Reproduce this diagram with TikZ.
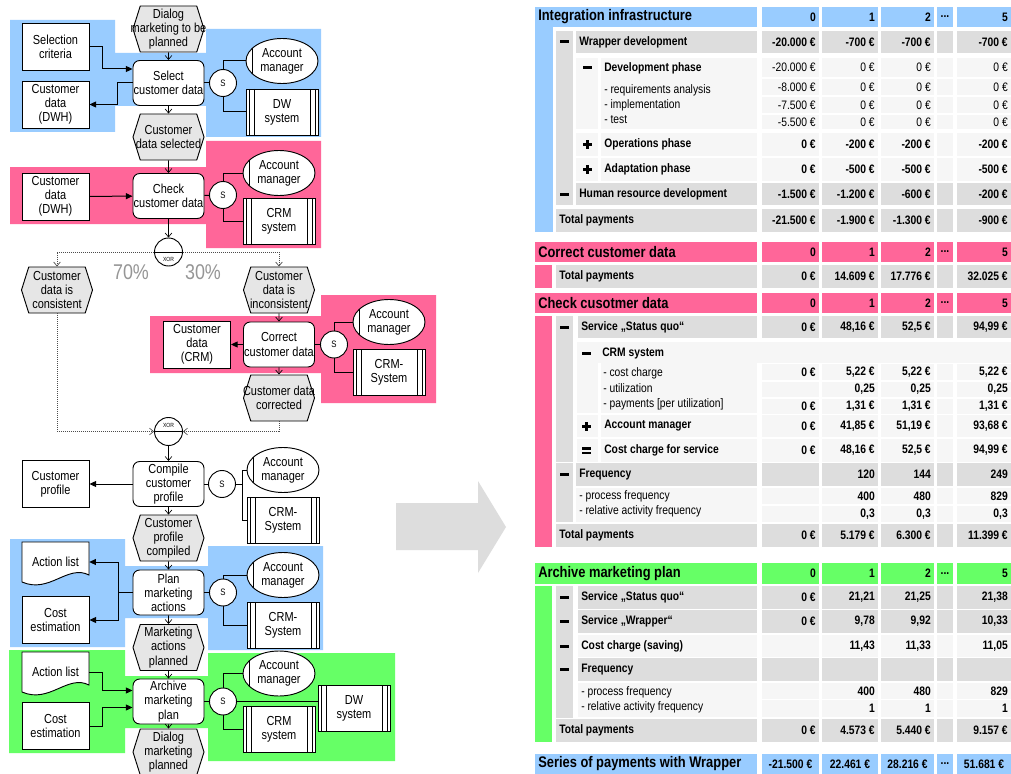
\documentclass[tikz,border=0pt]{standalone}
\usepackage{fontspec}
\setmainfont{Liberation Sans}[FakeStretch=0.84]
\usetikzlibrary{arrows.meta,shapes.geometric,shapes.symbols}

\definecolor{regblue}{RGB}{153,204,255}
\definecolor{regpink}{RGB}{255,102,153}
\definecolor{reggreen}{RGB}{102,255,102}
\definecolor{cellgray}{RGB}{221,221,221}
\definecolor{celllight}{RGB}{246,246,246}
\definecolor{evgray}{RGB}{230,230,230}
\definecolor{pctgray}{RGB}{150,150,150}

\newcommand\diagfont{\fontsize{9.8}{10.6}\selectfont}
\newcommand\tabfont{\fontsize{9.2}{11.4}\selectfont}
\newcommand\headfont{\fontsize{11.5}{13}\selectfont\bfseries}
\newcommand\wide[1]{\makebox[38pt]{#1}}

\tikzset{
  func/.style={draw, line width=0.7pt, fill=white, rounded corners=5pt, minimum width=53.25pt, minimum height=33.75pt, align=center, inner sep=0.5pt, font=\diagfont},
  event/.style={draw, line width=0.7pt, fill=evgray, signal, signal to=east and west, signal pointer angle=145, minimum width=53.25pt, minimum height=34.5pt, align=center, inner sep=0pt, font=\diagfont},
  data/.style={draw, line width=0.7pt, fill=white, minimum width=50.25pt, minimum height=35.25pt, align=center, inner sep=0.5pt, font=\diagfont},
  doc/.style={minimum width=50.25pt, minimum height=30pt, align=center, inner sep=1pt, font=\diagfont},
  role/.style={draw, line width=0.7pt, fill=white, ellipse, minimum width=54pt, minimum height=33.75pt, align=center, inner sep=0pt, font=\diagfont,
    path picture={\draw[line width=0.6pt] ([xshift=5pt]path picture bounding box.north west) -- ([xshift=5pt]path picture bounding box.south west);}},
  sys/.style={draw, line width=0.7pt, fill=white, minimum width=54pt, minimum height=34.5pt, align=center, inner sep=1pt, font=\diagfont,
    path picture={\foreach \d in {2.25pt,6pt}{
      \draw[line width=0.6pt] ([xshift=\d]path picture bounding box.north west) -- ([xshift=\d]path picture bounding box.south west);
      \draw[line width=0.6pt] ([xshift=-\d]path picture bounding box.north east) -- ([xshift=-\d]path picture bounding box.south east);}}},
  supp/.style={draw, line width=0.7pt, fill=white, circle, minimum size=20.25pt, inner sep=0pt, font=\fontsize{7}{8}\selectfont},
  xor/.style={draw, line width=0.7pt, fill=white, circle, minimum size=21pt, inner sep=0pt,
    path picture={\draw[line width=0.6pt] (path picture bounding box.west) -- (path picture bounding box.east);}},
  xortext/.style={inner sep=0pt, font=\fontsize{4.5}{5}\selectfont},
  pct/.style={text=pctgray, font=\fontsize{16}{18}\selectfont},
  flow/.style={-{Straight Barb[length=3pt,width=5pt]}, line width=0.5pt},
  dflow/.style={flow, densely dotted, draw=black!70},
  dat/.style={-{Triangle[length=5pt,width=4.5pt]}, line width=0.75pt},
  link/.style={line width=0.75pt},
  head/.style={anchor=west, inner sep=0pt, font=\headfont},
  lab/.style={anchor=west, inner sep=0pt, font=\tabfont\bfseries},
  sub/.style={anchor=west, align=left, inner sep=0pt, font=\tabfont},
  val/.style={anchor=east, inner sep=0pt, font=\tabfont\bfseries},
  valm/.style={anchor=east, inner sep=0pt, font=\tabfont},
}

% value cells of one table row: [fill][text style](top,bottom){0}{1}{2}{5}
\def\vrow[#1][#2](#3,#4)#5#6#7#8{%
  \fill[#1] (762,#3) rectangle (819,#4);
  \fill[#1] (822,#3) rectangle (878,#4);
  \fill[#1] (881,#3) rectangle (934,#4);
  \fill[#1] (937,#3) rectangle (953,#4);
  \fill[#1] (957,#3) rectangle (1011,#4);
  \node[#2] at (816,{(#3+#4)/2}) {#5};
  \node[#2] at (875,{(#3+#4)/2}) {#6};
  \node[#2] at (931,{(#3+#4)/2}) {#7};
  \node[#2] at (1008,{(#3+#4)/2}) {#8};}
% header row of a section
\def\hrow[#1](#2,#3)#4{%
  \fill[#1] (535,#2) rectangle (757,#3);
  \node[head] at (538,{(#2+#3)/2}) {#4};
  \vrow[#1][val](#2,#3){0}{1}{2}{5}
  \node[val,anchor=center] at (945,{(#2+#3)/2}) {...};}
% label cell
\def\lcell[#1](#2,#3)(#4,#5)#6{%
  \fill[#1] (#2,#3) rectangle (#4,#5);
  \node[lab] at (#2+3,{(#3+#5)/2}) {#6};}
\def\iconminus(#1,#2){\fill (#1-4.5,#2-1.5) rectangle (#1+4.5,#2+1.5);}
\def\iconplus(#1,#2){\fill (#1-4.5,#2-1.5) rectangle (#1+4.5,#2+1.5); \fill (#1-1.5,#2-4.5) rectangle (#1+1.5,#2+4.5);}
\def\iconeq(#1,#2){\fill (#1-4.5,#2-3.5) rectangle (#1+4.5,#2-1); \fill (#1-4.5,#2+1) rectangle (#1+4.5,#2+3.5);}
% document symbol (wavy bottom) round a centre coordinate
\def\docshape#1{\filldraw[fill=white, line width=0.7pt] ([shift={(-33.5,-20)}]#1) -- ([shift={(33.5,-20)}]#1) -- ([shift={(33.5,13)}]#1)
  .. controls ([shift={(12,2)}]#1) and ([shift={(-6,32)}]#1) .. ([shift={(-33.5,20)}]#1) -- cycle;}

\begin{document}
\begin{tikzpicture}[x=0.75pt, y=-0.75pt]
\useasboundingbox (0,0) rectangle (1011,774);
\fill[white] (0,0) rectangle (1011,774);

%%%%% REGIONS %%%%%
\fill[regblue] (10,20) rectangle (115,132) (113,53) rectangle (208,106) (206,29) rectangle (321,137);
\fill[regpink] (10,167) rectangle (208,224) (206,141) rectangle (321,248);
\fill[regpink] (150,316) rectangle (323,373) (321,295) rectangle (436,403);
\fill[regblue] (10,539) rectangle (125,647) (123,566) rectangle (210,618) (208,546) rectangle (323,650);
\fill[reggreen] (9,650) rectangle (125,753) (123,676) rectangle (210,728) (208,653) rectangle (395,761);

%%%%% PROCESS CHAIN %%%%%
\node[event] (e0) at (168.5,29) {Dialog\\\wide{marketing to be}\\planned};
\node[func] (sel) at (168.5,83) {Select\\customer data};
\node[data] (crit) at (55.5,47) {Selection\\criteria};
\node[data] (dwh1) at (55.5,104.5) {Customer\\data\\(DWH)};
\node[supp] (s1) at (223,83) {S};
\node[role] (r1) at (282,61) {Account\\manager};
\node[sys] (a1) at (282,112) {DW\\system};

\node[event] (e1) at (168.5,137) {Customer\\\wide{data selected}};
\node[func] (chk) at (168.5,196) {Check\\customer data};
\node[data] (dwh2) at (55.5,196.5) {Customer\\data\\(DWH)};
\node[supp] (s2) at (223,195) {S};
\node[role] (r2) at (279,173) {Account\\manager};
\node[sys] (a2) at (279,221) {CRM\\system};

\node[xor] (x1) at (168.5,252) {};
\node[xortext] (x1t) at (168.5,259) {XOR};
\node[pct] (p70) at (131,272) {70\%};
\node[pct] (p30) at (203,272) {30\%};
\node[event] (e2) at (57,290) {Customer\\data is\\consistent};
\node[event] (e3) at (279,290) {Customer\\data is\\\wide{inconsistent}};

\node[func] (cor) at (279,344.5) {Correct\\customer data};
\node[data] (crm) at (197,344.5) {Customer\\data\\(CRM)};
\node[supp] (s3) at (334,344.5) {S};
\node[role] (r3) at (389,322) {Account\\manager};
\node[sys] (a3) at (389,372) {CRM-\\System};
\node[event] (e4) at (279,398) {\wide{Customer data}\\corrected};

\node[xor] (x2) at (168.5,431.5) {};
\node[xortext] (x2t) at (168.5,425) {XOR};

\node[func] (cmp) at (168.5,484) {Compile\\customer\\profile};
\node[data] (prof) at (55.5,484) {Customer\\profile};
\node[supp] (s4) at (222,484) {S};
\node[role] (r4) at (283,470) {Account\\manager};
\node[sys] (a4) at (283,520) {CRM-\\System};
\node[event] (e5) at (168.5,538) {Customer\\profile\\compiled};

\node[func] (pln) at (168.5,592.5) {Plan\\marketing\\actions};
\coordinate (al1c) at (55.5,562);
\docshape{al1c}
\node[doc] (al1) at (al1c) {Action list};
\node[data] (cost1) at (55.5,620) {Cost\\estimation};
\node[supp] (s5) at (223,592.5) {S};
\node[role] (r5) at (283,575) {Account\\manager};
\node[sys] (a5) at (283,625) {CRM-\\System};
\node[event] (e6) at (168.5,647.5) {Marketing\\actions\\planned};

\node[func] (arc) at (168.5,701.5) {Archive\\marketing\\plan};
\coordinate (al2c) at (55.5,672);
\docshape{al2c}
\node[doc] (al2) at (al2c) {Action list};
\node[data] (cost2) at (55.5,726) {Cost\\estimation};
\node[supp] (s6) at (223,701.5) {S};
\node[role] (r6) at (279,673.5) {Account\\manager};
\node[sys] (a6) at (279,729) {CRM\\system};
\node[sys] (a7) at (354,708) {DW\\system};
\node[event] (e7) at (168.5,752) {Dialog\\marketing\\planned};

% connectors
\draw[flow] (e0) -- (sel);
\draw[dat] (crit.east) -- ++(13,0) |- ([yshift=10.5pt]sel.west);
\draw[dat] (sel.west) -- ++(-15,0) |- (dwh1.east);
\draw[link] (sel) -- (s1);
\draw[link] (s1.north) |- (r1.west);
\draw[link] (s1.south) |- (a1.west);
\draw[flow] (sel) -- (e1);
\draw[flow] (e1) -- (chk);
\draw[dat] (dwh2) -- (chk);
\draw[link] (chk) -- (s2);
\draw[link] (s2.north) |- (r2.west);
\draw[link] (s2.south) |- (a2.west);
\draw[flow] (chk) -- (x1);
\draw[dflow] (x1.west) -| (e2.north);
\draw[dflow] (x1.east) -| (e3.north);
\draw[flow] (e3) -- (cor);
\draw[dat] (cor) -- (crm);
\draw[link] (cor) -- (s3);
\draw[link] (s3.north) |- (r3.west);
\draw[link] (s3.south) |- (a3.west);
\draw[flow] (cor) -- (e4);
\draw[dflow] (e2.south) |- (x2.west);
\draw[dflow] (e4.south) |- (x2.east);
\draw[flow] (x2) -- (cmp);
\draw[dat] (cmp) -- (prof);
\draw[link] (cmp) -- (s4);
\draw[link] (s4.east) -- ++(7,0) coordinate (s4k) |- (r4.west);
\draw[link] (s4k) |- (a4.west);
\draw[flow] (cmp) -- (e5);
\draw[flow] (e5) -- (pln);
\draw[dat] (pln.west) -- ++(-14,0) coordinate (plk) |- (al1.east);
\draw[dat] (plk) |- (cost1.east);
\draw[link] (pln) -- (s5);
\draw[link] (s5.north) |- (r5.west);
\draw[link] (s5.south) |- (a5.west);
\draw[flow] (pln) -- (e6);
\draw[flow] (e6) -- (arc);
\draw[dat] (al2.east) -- ++(13,0) |- ([yshift=8.25pt]arc.west);
\draw[dat] (cost2.east) -- ++(13,0) |- ([yshift=-4.5pt]arc.west);
\draw[link] (arc) -- (s6);
\draw[link] (s6.north) |- (r6.west);
\draw[link] (s6.east) -- (s6.east -| a7.west);
\draw[link] (s6.south) |- (a6.west);
\draw[flow] (arc) -- (e7);

%%%%% ARROW %%%%%
\fill[cellgray] (396,503) -- (478,503) -- (478,481) -- (506,527) -- (478,573) -- (478,550) -- (396,550) -- cycle;

%%%%% TABLE: INTEGRATION %%%%%
\hrow[regblue](7,27){Integration infrastructure}
\fill[regblue] (535,26) rectangle (553,232);
\fill[cellgray] (556,31) rectangle (573,205);
\lcell[cellgray](576,31)(757,53){Wrapper development}
\iconminus(564.5,42)
\vrow[cellgray][val](31,53){-20.000 €}{-700 €}{-700 €}{-700 €}
\fill[celllight] (576,58) rectangle (598,129);
\iconminus(587,68)
\fill[celllight] (601,58) rectangle (757,129);
\node[lab] at (604,68) {Development phase};
\node[sub] at (604,104) {- requirements analysis\\- implementation\\- test};
\vrow[celllight][valm](58,77){-20.000 €}{0 €}{0 €}{0 €}
\vrow[celllight][valm](79,95){-8.000 €}{0 €}{0 €}{0 €}
\vrow[celllight][valm](97,113){-7.500 €}{0 €}{0 €}{0 €}
\vrow[celllight][valm](115,129){-5.500 €}{0 €}{0 €}{0 €}
\fill[celllight] (576,133) rectangle (598,156);
\iconplus(587,144.5)
\lcell[celllight](601,133)(757,156){Operations phase}
\vrow[celllight][val](133,156){0 €}{-200 €}{-200 €}{-200 €}
\fill[celllight] (576,158) rectangle (598,181);
\iconplus(587,169.5)
\lcell[celllight](601,158)(757,181){Adaptation phase}
\vrow[celllight][val](158,181){0 €}{-500 €}{-500 €}{-500 €}
\lcell[cellgray](576,183)(757,205){Human resource development}
\iconminus(564.5,194)
\vrow[cellgray][val](183,205){-1.500 €}{-1.200 €}{-600 €}{-200 €}
\lcell[cellgray](556,209)(757,232){Total payments}
\vrow[cellgray][val](209,232){-21.500 €}{-1.900 €}{-1.300 €}{-900 €}

%%%%% TABLE: CORRECT %%%%%
\hrow[regpink](242,262){Correct customer data}
\fill[regpink] (535,265) rectangle (552,288);
\lcell[cellgray](556,265)(757,288){Total payments}
\vrow[cellgray][val](265,288){0 €}{14.609 €}{17.776 €}{32.025 €}

%%%%% TABLE: CHECK %%%%%
\hrow[regpink](293,313){Check cusotmer data}
\fill[regpink] (535,316) rectangle (552,547);
\fill[cellgray] (556,316) rectangle (573,462);
\fill[cellgray] (556,463) rectangle (573,522);
\lcell[cellgray](578,316)(757,338){Service „Status quo“}
\iconminus(564.5,327)
\vrow[cellgray][val](316,338){0 €}{48,16 €}{52,5 €}{94,99 €}
\fill[celllight] (577,342) rectangle (1011,363);
\fill[celllight] (577,363) rectangle (598,413);
\iconminus(586,353)
\node[lab] at (602,353) {CRM system};
\fill[celllight] (601,363) rectangle (757,413);
\node[sub] at (603,389) {- cost charge\\- utilization\\- payments [per utilization]};
\vrow[celllight][val](364,380){0 €}{5,22 €}{5,22 €}{5,22 €}
\vrow[celllight][val](382,397){}{0,25}{0,25}{0,25}
\vrow[celllight][val](399,414){0 €}{1,31 €}{1,31 €}{1,31 €}
\fill[celllight] (577,415) rectangle (598,437);
\iconplus(586,426)
\lcell[celllight](601,415)(757,437){Account manager}
\vrow[celllight][val](415,437){0 €}{41,85 €}{51,19 €}{93,68 €}
\fill[celllight] (577,439) rectangle (598,462);
\iconeq(586,450.5)
\lcell[celllight](601,439)(757,462){Cost charge for service}
\vrow[celllight][val](439,462){0 €}{48,16 €}{52,5 €}{94,99 €}
\lcell[cellgray](576,463)(757,486){Frequency}
\iconminus(564.5,474.5)
\vrow[cellgray][val](463,486){}{120}{144}{249}
\fill[celllight] (576,488) rectangle (757,522);
\node[sub] at (579,504) {- process frequency\\- relative activity frequency};
\vrow[celllight][val](488,504){}{400}{480}{829}
\vrow[celllight][val](506,522){}{0,3}{0,3}{0,3}
\lcell[cellgray](556,524)(757,547){Total payments}
\vrow[cellgray][val](524,547){0 €}{5.179 €}{6.300 €}{11.399 €}

%%%%% TABLE: ARCHIVE %%%%%
\hrow[reggreen](563,584){Archive marketing plan}
\fill[reggreen] (535,586) rectangle (552,742);
\fill[cellgray] (556,586) rectangle (573,718);
\lcell[cellgray](578,586)(757,609){Service „Status quo“}
\iconminus(564.5,597.5)
\vrow[cellgray][val](586,609){0 €}{21,21}{21,25}{21,38}
\lcell[cellgray](578,610)(757,633){Service „Wrapper“}
\iconminus(564.5,621.5)
\vrow[cellgray][val](610,633){0 €}{9,78}{9,92}{10,33}
\lcell[celllight](578,635)(757,657){Cost charge (saving)}
\iconminus(564.5,646)
\vrow[celllight][val](635,657){}{11,43}{11,33}{11,05}
\lcell[cellgray](578,658)(757,681){Frequency}
\iconminus(564.5,669.5)
\vrow[cellgray][val](658,681){}{}{}{}
\fill[celllight] (578,683) rectangle (757,717);
\node[sub] at (581,700) {- process frequency\\- relative activity frequency};
\vrow[celllight][val](683,699){}{400}{480}{829}
\vrow[celllight][val](700,717){}{1}{1}{1}
\lcell[cellgray](556,719)(757,742){Total payments}
\vrow[cellgray][val](719,742){0 €}{4.573 €}{5.440 €}{9.157 €}

%%%%% TABLE: SERIES %%%%%
\fill[regblue] (535,754) rectangle (757,774);
\node[head] at (538,764) {Series of payments with Wrapper};
\vrow[regblue][val](754,774){}{}{}{}
\node[val,anchor=center] at (790.5,764) {-21.500 €};
\node[val,anchor=center] at (850,764) {22.461 €};
\node[val,anchor=center] at (907.5,764) {28.216 €};
\node[val,anchor=center] at (945,764) {...};
\node[val,anchor=center] at (984,764) {51.681 €};

\end{tikzpicture}
\end{document}
